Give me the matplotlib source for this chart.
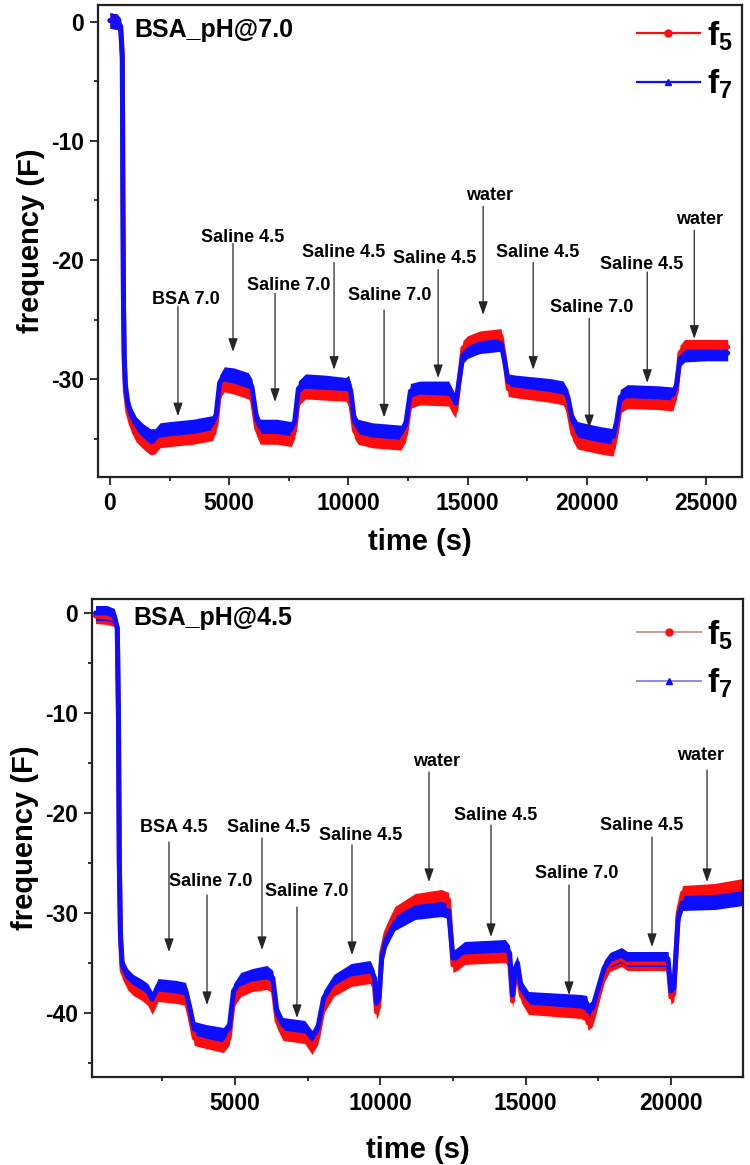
import matplotlib
matplotlib.use('Agg')
import matplotlib.pyplot as plt
from matplotlib.lines import Line2D
from matplotlib.ticker import MultipleLocator
import numpy as np

plt.rcParams['font.family'] = ['Liberation Sans', 'DejaVu Sans']
plt.rcParams['font.weight'] = 'bold'
plt.rcParams['mathtext.default'] = 'regular'
plt.rcParams['axes.unicode_minus'] = False

# ---------------- data: top panel (BSA pH 7.0) ----------------
top_time = [0, 300, 450, 520, 545, 570, 600, 650, 750, 900, 1100, 1400, 1700, 1900, 2100,
            2500, 3500, 4300, 4450, 4600, 4800, 5200, 5800, 5950, 6150, 6300, 7000, 7600,
            7750, 7900, 8200, 9000, 9900, 10000, 10100, 10250, 10400, 11000, 12200, 12400,
            12600, 13000, 14200, 14350, 14500, 14650, 14800, 15000, 15500, 16400, 16550,
            16700, 17000, 18500, 19000, 19200, 19400, 19600, 20500, 21100, 21250, 21400,
            21700, 23000, 23600, 23750, 23900, 24100, 25000, 25900]
top_f7 = [0.1, 0.0, -0.4, -3, -15, -24, -28, -30.5, -32.0, -33.0, -33.8, -34.4, -34.8, -34.8,
          -34.3, -34.2, -34.0, -33.7, -33.0, -30.3, -29.6, -29.7, -30.1, -30.6, -33.3, -34.0,
          -34.0, -34.2, -33.5, -30.8, -30.2, -30.3, -30.5, -30.3, -31.0, -33.5, -34.0, -34.3,
          -34.5, -33.8, -31.0, -30.8, -30.8, -31.4, -32.0, -30.0, -28.0, -27.6, -27.2, -27.0,
          -28.5, -30.2, -30.3, -30.6, -30.8, -31.5, -33.5, -34.2, -34.6, -34.8, -33.5, -31.5,
          -31.1, -31.2, -31.3, -30.5, -28.3, -27.9, -27.8, -27.8]
top_f5 = [0.1, 0.0, -0.4, -3, -15, -24, -28.5, -31.0, -32.7, -33.8, -34.6, -35.2, -35.7, -35.6,
          -35.1, -35.0, -34.8, -34.5, -33.8, -31.0, -30.4, -30.6, -31.0, -31.4, -34.1, -34.8,
          -34.8, -35.0, -34.3, -31.6, -31.0, -31.1, -31.2, -31.6, -32.0, -34.3, -34.8, -35.1,
          -35.3, -34.6, -31.8, -31.5, -31.6, -32.2, -32.6, -30.0, -27.4, -27.0, -26.6, -26.4,
          -28.3, -30.8, -30.9, -31.3, -31.5, -32.3, -34.5, -35.2, -35.6, -35.8, -34.3, -32.2,
          -31.8, -31.9, -32.0, -31.0, -27.8, -27.3, -27.3, -27.3]

# ---------------- data: bottom panel (BSA pH 4.5) ----------------
bot_time = [200, 600, 850, 950, 990, 1020, 1060, 1120, 1300, 1500, 1800, 2000, 2150, 2250,
            2350, 3000, 3300, 3450, 3600, 4000, 4600, 4800, 4950, 5200, 5600, 6100, 6300,
            6450, 6650, 7400, 7650, 7850, 8050, 8400, 9000, 9650, 9800, 9870, 9950, 10050,
            10200, 10500, 11200, 12100, 12350, 12500, 12650, 12900, 14300, 14450, 14550,
            14650, 14720, 14850, 15100, 16900, 17100, 17150, 17300, 17700, 17900, 18300,
            18500, 19900, 20000, 20100, 20250, 20400, 21500, 22480]
bot_f7 = [0.0, 0.0, -0.3, -1.5, -10, -25, -32, -35.2, -36.3, -36.9, -37.4, -37.8, -38.6, -38.0,
          -37.3, -37.5, -37.7, -39.5, -41.6, -41.9, -42.2, -41.5, -37.8, -36.7, -36.3, -36.0,
          -36.5, -40.0, -41.2, -41.5, -42.5, -41.5, -38.5, -36.9, -35.8, -35.5, -36.5, -39.0,
          -38.5, -34.5, -32.7, -31.0, -29.9, -29.6, -29.8, -34.5, -34.2, -33.6, -33.4, -34.0,
          -38.2, -35.5, -35.0, -37.5, -38.6, -38.9, -39.0, -39.8, -39.5, -35.5, -34.7, -34.2,
          -34.6, -34.6, -37.8, -37.5, -30.5, -29.0, -28.9, -28.5]
bot_f5 = [-0.3, -0.4, -0.6, -1.5, -10, -25, -32.5, -35.8, -36.9, -37.5, -38.0, -38.5, -39.4,
          -38.8, -38.1, -38.3, -38.5, -40.3, -42.5, -42.8, -43.2, -42.5, -38.7, -37.6, -37.1,
          -36.9, -37.3, -40.8, -42.0, -42.3, -43.4, -42.4, -39.3, -37.6, -36.6, -36.3, -37.3,
          -39.9, -39.3, -34.0, -32.0, -30.1, -28.8, -28.4, -28.7, -35.2, -35.0, -34.4, -34.2,
          -34.8, -38.8, -36.2, -35.8, -38.2, -39.4, -39.8, -40.1, -41.0, -40.6, -36.2, -35.1,
          -34.6, -35.0, -35.0, -38.4, -38.1, -30.0, -28.0, -27.8, -27.3]

# ---------------- annotations ----------------
top_labels = ['BSA 7.0', 'Saline 4.5', 'Saline 7.0', 'Saline 4.5', 'Saline 7.0', 'Saline 4.5',
              'water', 'Saline 4.5', 'Saline 7.0', 'Saline 4.5', 'water']
top_arrow_t = [2852, 5160, 6922, 9397, 11494, 13760, 15647, 17745, 20094, 22527, 24499]
top_arrow_tip = [-33.1, -27.7, -31.9, -29.2, -33.2, -29.9, -24.6, -29.2, -34.1, -30.3, -26.6]
top_arrow_start = [-23.9, -18.6, -22.8, -20.2, -24.2, -20.8, -15.5, -20.2, -24.9, -21.0, -17.5]
top_text_t = [3188, 5580, 7509, 9816, 11746, 13634, 15899, 17913, 20178, 22275, 24709]
top_text_v = [-23.3, -18.1, -22.1, -19.4, -23.0, -19.9, -14.6, -19.4, -24.0, -20.4, -16.6]

bot_labels = ['BSA 4.5', 'Saline 4.5', 'Saline 7.0', 'Saline 7.0', 'Saline 4.5', 'water',
              'Saline 4.5', 'Saline 7.0', 'Saline 4.5', 'water']
bot_arrow_t = [2729, 5929, 4037, 7133, 9026, 11676, 13809, 16493, 19349, 21242]
bot_arrow_tip = [-33.9, -33.7, -39.2, -40.5, -34.2, -26.9, -32.4, -38.2, -33.4, -26.9]
bot_arrow_start = [-22.9, -22.5, -28.2, -29.4, -23.2, -15.9, -21.2, -27.2, -22.4, -15.7]
bot_text_t = [2901, 6170, 4174, 7478, 9336, 11951, 13981, 16768, 19005, 21035]
bot_text_v = [-21.5, -21.4, -26.9, -27.9, -22.2, -14.9, -20.3, -26.0, -21.2, -14.3]

series_labels = ['f$_5$', 'f$_7$']

RED = '#ff0d0d'
BLUE = '#0d0dff'


def draw_band(ax, t, v, color, hw):
    t = np.asarray(t, dtype=float)
    v = np.asarray(v, dtype=float)
    ax.fill_between(t, v - hw, v + hw, color=color, lw=0)
    ax.plot(t, v, color=color, lw=3.6, solid_joinstyle='round', solid_capstyle='round')


def style_axes(ax, xlim, ylim, xmaj, ymaj, xlabelpad):
    ax.set_xlim(*xlim)
    ax.set_ylim(*ylim)
    ax.xaxis.set_major_locator(MultipleLocator(xmaj))
    ax.xaxis.set_minor_locator(MultipleLocator(xmaj / 2))
    ax.yaxis.set_major_locator(MultipleLocator(ymaj))
    ax.yaxis.set_minor_locator(MultipleLocator(ymaj / 2))
    ax.tick_params(which='major', direction='out', length=6, width=1.3, labelsize=16.5,
                   top=False, right=False, color='#222222')
    ax.tick_params(which='minor', direction='out', length=3, width=1.3,
                   top=False, right=False, color='#222222')
    ax.tick_params(axis='x', pad=5)
    ax.tick_params(axis='y', pad=4)
    for lab in ax.get_xticklabels() + ax.get_yticklabels():
        lab.set_fontweight('bold')
    for sp in ax.spines.values():
        sp.set_linewidth(1.6)
        sp.set_color('#222222')
    ax.set_xlabel('time (s)', fontsize=21, fontweight='bold', labelpad=xlabelpad)
    ax.set_ylabel('frequency (F)', fontsize=21, fontweight='bold', labelpad=4)


def annotate(ax, labels, at, tip, start, tt, tv):
    for lab, a, p, s, x, y in zip(labels, at, tip, start, tt, tv):
        ax.annotate('', xy=(a, p), xytext=(a, s),
                    arrowprops=dict(arrowstyle='-|>,head_length=0.8,head_width=0.28',
                                    color='0.15', lw=0.9, shrinkA=0, shrinkB=0,
                                    mutation_scale=10))
        ax.text(x, y, lab, ha='center', va='center', fontsize=13, fontweight='bold')


fig = plt.figure(figsize=(7.5, 11.65), dpi=100)

legend_prop = dict(family='Liberation Sans', weight='bold', size=24)

# ---- top panel
ax1 = fig.add_axes([98 / 750, 1 - 477 / 1165, (742 - 98) / 750, (477 - 5) / 1165])
draw_band(ax1, top_time, top_f5, RED, 0.65)
draw_band(ax1, top_time, top_f7, BLUE, 0.65)
style_axes(ax1, (-500, 26500), (-38.2, 1.4), 5000, 10, 9)
annotate(ax1, top_labels, top_arrow_t, top_arrow_tip, top_arrow_start, top_text_t, top_text_v)
ax1.text(0.057, 0.947, 'BSA_pH@7.0', transform=ax1.transAxes, ha='left', va='center',
         fontsize=18, fontweight='bold')
h5 = Line2D([], [], color=RED, marker='o', ms=5, lw=1.6)
h7 = Line2D([], [], color=BLUE, marker='^', ms=5, lw=1.6)
ax1.legend(handles=[h5, h7], labels=series_labels, loc='upper right',
           bbox_to_anchor=(0.985, 0.97), frameon=False, prop=legend_prop,
           handlelength=1.9, handletextpad=0.2, labelspacing=0.45,
           borderpad=0, borderaxespad=0)

# ---- bottom panel
ax2 = fig.add_axes([92 / 750, 1 - 1077 / 1165, (743 - 92) / 750, (1077 - 599) / 1165])
draw_band(ax2, bot_time, bot_f5, RED, 0.75)
draw_band(ax2, bot_time, bot_f7, BLUE, 0.75)
style_axes(ax2, (80, 22480), (-46.4, 1.4), 5000, 10, 15)
annotate(ax2, bot_labels, bot_arrow_t, bot_arrow_tip, bot_arrow_start, bot_text_t, bot_text_v)
ax2.text(0.063, 0.960, 'BSA_pH@4.5', transform=ax2.transAxes, ha='left', va='center',
         fontsize=18, fontweight='bold')
g5 = Line2D([], [], color='#c89a9a', marker='o', ms=5, lw=1.4,
            markerfacecolor=RED, markeredgecolor=RED)
g7 = Line2D([], [], color='#8c8ce6', marker='^', ms=5, lw=1.4,
            markerfacecolor=BLUE, markeredgecolor=BLUE)
ax2.legend(handles=[g5, g7], labels=series_labels, loc='upper right',
           bbox_to_anchor=(0.985, 0.96), frameon=False, prop=legend_prop,
           handlelength=1.9, handletextpad=0.2, labelspacing=0.45,
           borderpad=0, borderaxespad=0)

fig.savefig('out.png', dpi=100)
